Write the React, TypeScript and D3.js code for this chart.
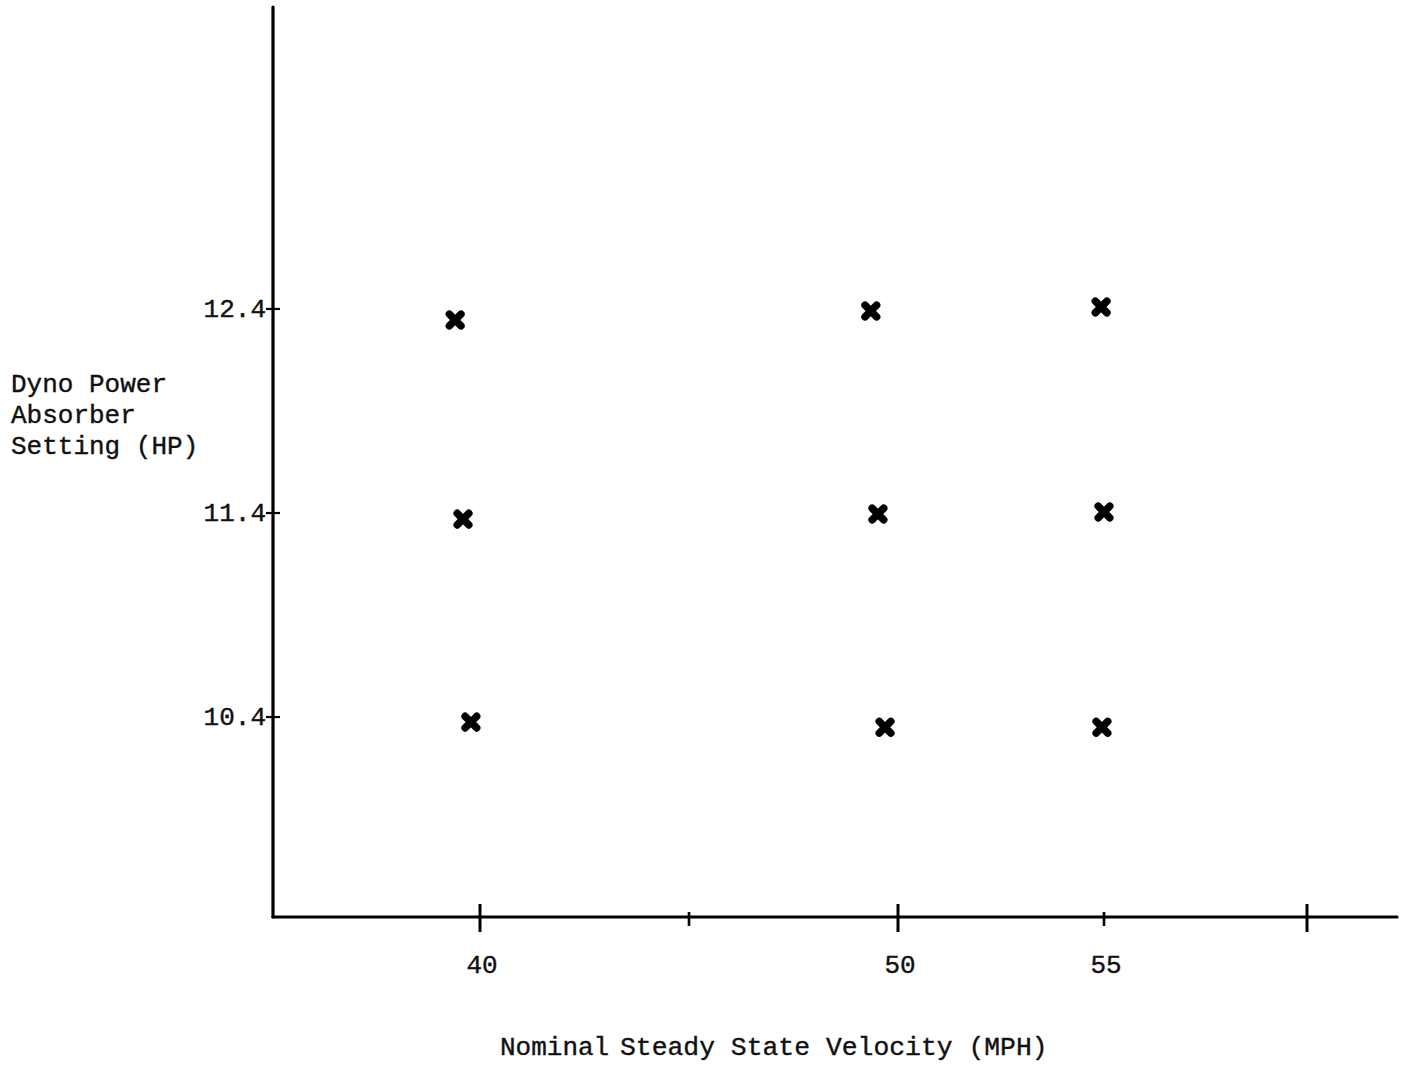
import React, { useRef, useEffect } from 'react'
import { select, scaleLinear } from 'd3'

// readings
const velocity = [39.4, 49.35, 54.93, 39.59, 49.52, 55.0, 39.78, 49.69, 54.95]
const power = [12.346, 12.39, 12.41, 11.37, 11.395, 11.405, 10.375, 10.35, 10.35]

// hand-drawn axis: tick marks are not quite evenly spaced
const xAxisStops = [35, 40, 50, 55, 60, 62.2]
const xTicksMajor = [40, 50, 60]
const xTicksMinor = [45, 55]
const xTickLabels = [40, 50, 55]
const yTicks = [12.4, 11.4, 10.4]
const yTitle = ['Dyno Power', 'Absorber', 'Setting (HP)']

const FONT = '"Liberation Mono", "Courier New", monospace'

function App() {
  const svgRef = useRef()

  useEffect(() => {
    const svg = select(svgRef.current)
    svg.selectAll('*').remove()

    const xScale = scaleLinear().domain(xAxisStops).range([273, 480, 898, 1104, 1307, 1397])
    const yScale = scaleLinear().domain([9.42, 13.88]).range([917, 7])

    const g = svg.append('g')

    // axes
    g.append('line')
      .attr('x1', xScale(35)).attr('x2', xScale(35))
      .attr('y1', yScale(13.88)).attr('y2', yScale(9.42))
      .attr('stroke', '#000').attr('stroke-width', 3.2).attr('stroke-linecap', 'round')
    g.append('line')
      .attr('x1', xScale(35)).attr('x2', xScale(62.2))
      .attr('y1', yScale(9.42)).attr('y2', yScale(9.42))
      .attr('stroke', '#000').attr('stroke-width', 3.2).attr('stroke-linecap', 'round')

    const y0 = yScale(9.42)
    g.selectAll('.xmaj')
      .data(xTicksMajor)
      .enter()
      .append('line')
      .attr('x1', d => xScale(d)).attr('x2', d => xScale(d))
      .attr('y1', y0 - 13).attr('y2', y0 + 15)
      .attr('stroke', '#000').attr('stroke-width', 3)
    g.selectAll('.xmin')
      .data(xTicksMinor)
      .enter()
      .append('line')
      .attr('x1', d => xScale(d)).attr('x2', d => xScale(d))
      .attr('y1', y0 - 5).attr('y2', y0 + 9)
      .attr('stroke', '#000').attr('stroke-width', 2.6)

    g.selectAll('.ytick')
      .data(yTicks)
      .enter()
      .append('line')
      .attr('x1', xScale(35) - 7).attr('x2', xScale(35) + 7)
      .attr('y1', d => yScale(d)).attr('y2', d => yScale(d))
      .attr('stroke', '#000').attr('stroke-width', 2.2)

    // tick labels
    g.selectAll('.xlab')
      .data(xTickLabels)
      .enter()
      .append('text')
      .attr('x', d => xScale(d) + 2)
      .attr('y', 973)
      .attr('text-anchor', 'middle')
      .attr('font-family', FONT).attr('font-size', 26)
      .attr('fill', '#111').attr('stroke', '#111').attr('stroke-width', 0.4)
      .text(d => d)

    g.selectAll('.ylab')
      .data(yTicks)
      .enter()
      .append('text')
      .attr('x', xScale(35) - 7)
      .attr('y', d => yScale(d) + 8)
      .attr('text-anchor', 'end')
      .attr('font-family', FONT).attr('font-size', 26)
      .attr('fill', '#111').attr('stroke', '#111').attr('stroke-width', 0.4)
      .text(d => d.toFixed(1))

    // axis titles
    g.selectAll('.ytitle')
      .data(yTitle)
      .enter()
      .append('text')
      .attr('x', 11)
      .attr('y', (d, i) => 392 + i * 31)
      .attr('font-family', FONT).attr('font-size', 26)
      .attr('fill', '#111').attr('stroke', '#111').attr('stroke-width', 0.4)
      .text(d => d)

    g.append('text')
      .attr('x', 500).attr('y', 1055)
      .attr('font-family', FONT).attr('font-size', 26)
      .attr('fill', '#111').attr('stroke', '#111').attr('stroke-width', 0.4)
      .text('Nominal')
    g.append('text')
      .attr('x', 620).attr('y', 1055)
      .attr('font-family', FONT).attr('font-size', 26.4)
      .attr('fill', '#111').attr('stroke', '#111').attr('stroke-width', 0.4)
      .text('Steady State Velocity (MPH)')

    // x markers
    const marks = g.selectAll('.pt')
      .data(velocity)
      .enter()
      .append('g')
      .attr('transform', (d, i) => `translate(${xScale(d)},${yScale(power[i])})`)
    marks.append('path')
      .attr('d', 'M-5.8,-5.8L5.8,5.8M-5.8,5.8L5.8,-5.8')
      .attr('stroke', '#000').attr('stroke-width', 7.5).attr('stroke-linecap', 'round')
      .attr('fill', 'none')
  }, [])

  return (
    <svg
      ref={svgRef}
      width="1401"
      height="1066"
      style={{ position: 'absolute', left: 0, top: 0, background: '#fff' }}
    ></svg>
  )
}

export default App
